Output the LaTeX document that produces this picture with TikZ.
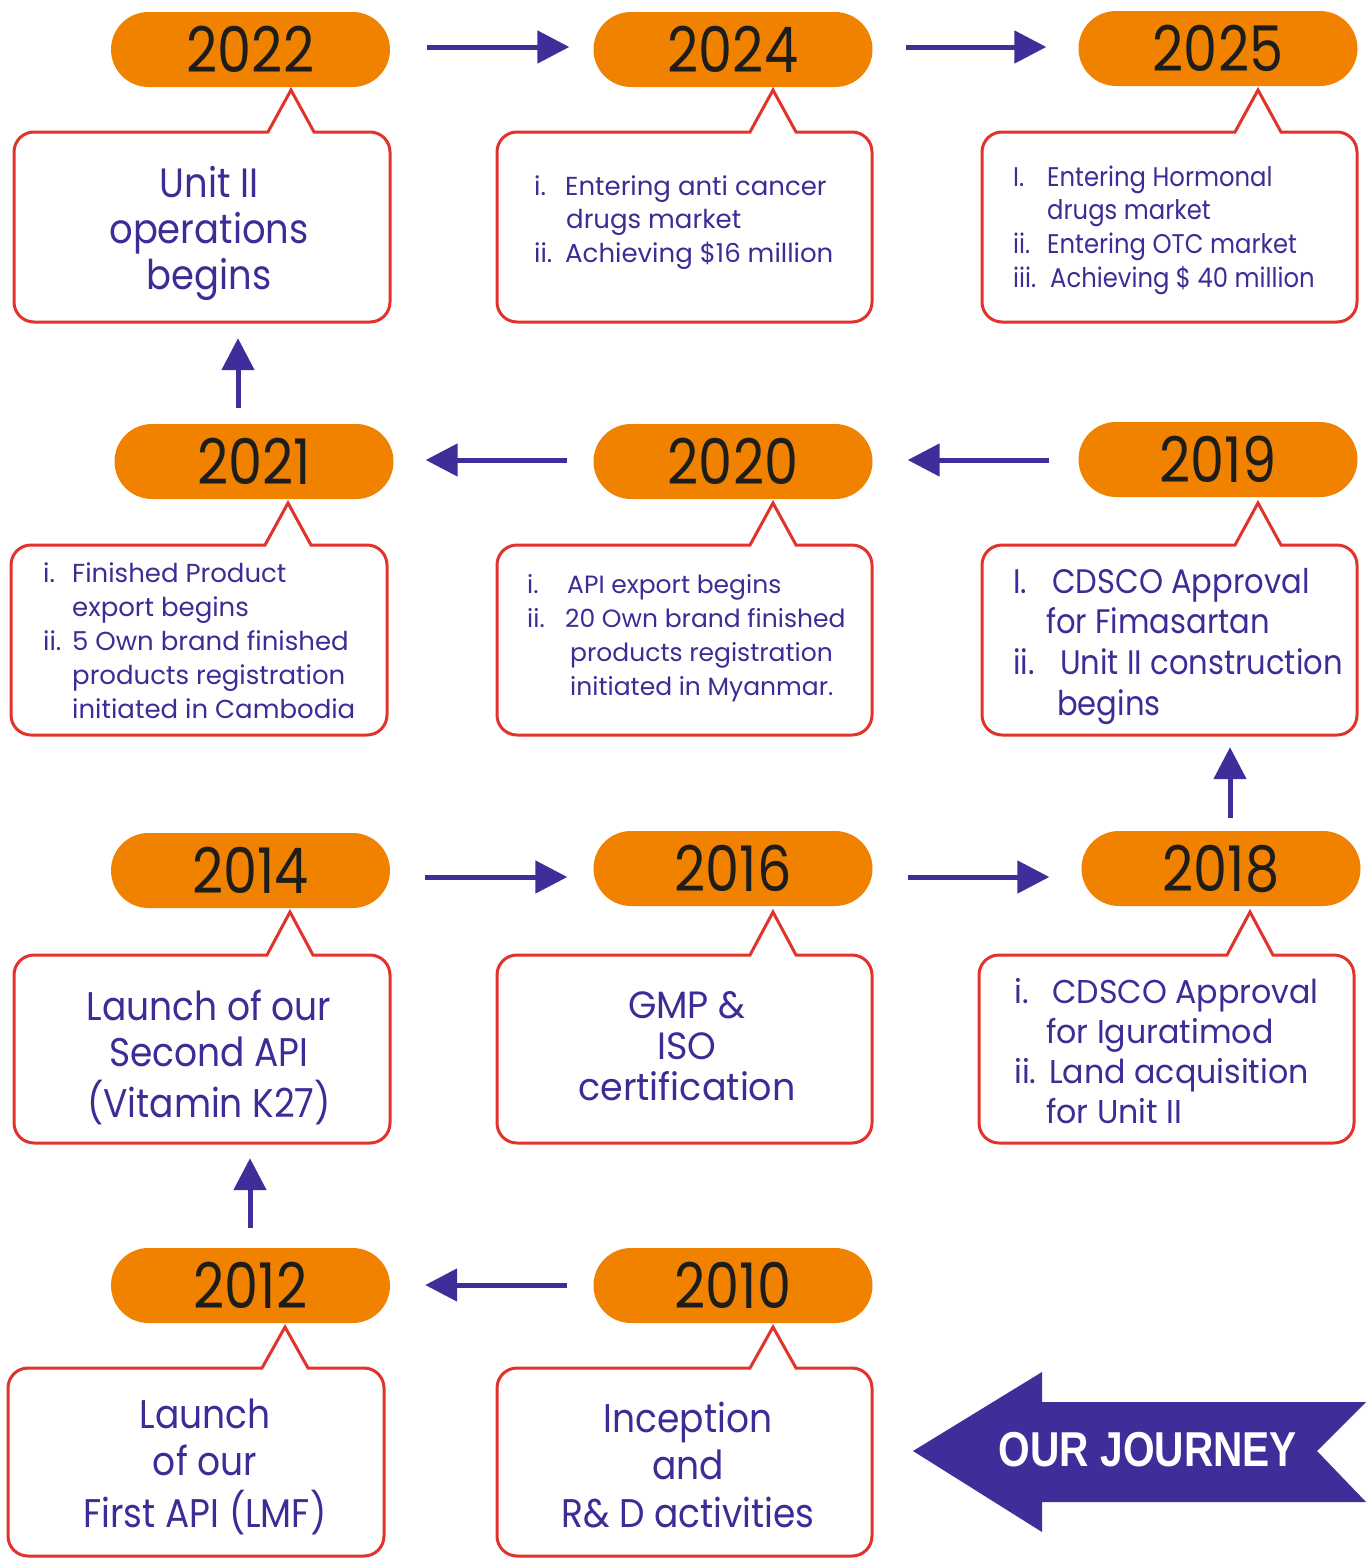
\documentclass[tikz,border=0pt]{standalone}
\usepackage{fontspec}
\setmainfont{Poppins}[FakeStretch=0.9]
\newfontfamily\fontB{Poppins}[FakeStretch=0.96]
\newfontfamily\fontC{Poppins}
\newfontfamily\yearfont{Poppins}[FakeStretch=0.86]
\newfontfamily\bannerfont{Liberation Sans}
\usetikzlibrary{arrows.meta,calc}
\definecolor{orng}{HTML}{F08200}
\definecolor{tpurple}{HTML}{3B2D96}
\definecolor{apurple}{HTML}{3D2E99}
\definecolor{bred}{HTML}{E1332B}
\definecolor{yblack}{HTML}{1D1D1B}
\newcommand{\tlbox}[7]{%
  \node[inner sep=0pt, minimum width={(#4-#2)*1pt}, minimum height={(#5-#3)*1pt}] (#1) at ({(#2+#4)/2},{-(#3+#5)/2}) {};
  \draw[boxline] ({#6+23},-#3) -- ({#4-20},-#3) arc[start angle=90,end angle=0,radius=20pt]
    -- (#4,{-#5+20}) arc[start angle=0,end angle=-90,radius=20pt]
    -- ({#2+20},-#5) arc[start angle=-90,end angle=-180,radius=20pt]
    -- (#2,{-#3-20}) arc[start angle=180,end angle=90,radius=20pt]
    -- ({#6-23},-#3) -- (#6,-#7) -- cycle;}
\tikzset{
  pill/.style={fill=orng, rounded corners=37.5pt, minimum width=279pt, minimum height=75pt,
    inner sep=0pt, text=yblack, font=\yearfont\fontsize{63}{63}\selectfont},
  boxline/.style={draw=bred, line width=3pt, line join=miter, fill=white},
  txt/.style={inner sep=0pt, text=tpurple},
  arr/.style={draw=apurple, line width=5pt, -{Triangle[length=32pt,width=32pt]}},
}
\newcommand{\lbl}[2]{\makebox[#1pt][l]{#2}}
\begin{document}
\begin{tikzpicture}[x=1pt,y=1pt]
\useasboundingbox (0,0) rectangle (1367,-1558);
\fill[white] (0,0) rectangle (1367,-1558);

% pills
\node[pill] (y2022) at (250.5,-49.5) {2022};
\node[pill] (y2024) at (733,-49.5) {2024};
\node[pill] (y2025) at (1218,-48.5) {2025};
\node[pill] (y2021) at (254,-461.5) {2021};
\node[pill] (y2020) at (733,-461.5) {2020};
\node[pill] (y2019) at (1218,-459.5) {2019};
\node[pill] (y2014) at (250.5,-870.5) {2014};
\node[pill] (y2016) at (733,-868.5) {2016};
\node[pill] (y2018) at (1221,-868.5) {2018};
\node[pill] (y2012) at (250.5,-1285.5) {2012};
\node[pill] (y2010) at (733,-1285.5) {2010};

% callout boxes
\tlbox{b2022}{14}{132}{390}{322}{291}{90}
\tlbox{b2024}{497}{132}{872}{322}{773}{90}
\tlbox{b2025}{982}{132}{1357}{322}{1258}{90}
\tlbox{b2021}{11}{545}{387}{735}{288}{503}
\tlbox{b2020}{497}{545}{872}{735}{773}{503}
\tlbox{b2019}{982}{545}{1357}{735}{1258}{503}
\tlbox{b2014}{14}{955}{390}{1143}{290}{912}
\tlbox{b2016}{497}{955}{872}{1143}{773}{912}
\tlbox{b2018}{979}{955}{1354}{1143}{1250}{912}
\tlbox{b2012}{8}{1368}{384}{1556}{285}{1327}
\tlbox{b2010}{497}{1368}{872}{1556}{773}{1327}

% texts
\node[txt, anchor=base] (t2022) at (209,-197) {\fontsize{41}{46}\selectfont
  \begin{tabular}[t]{@{}c@{}}Unit II\\operations\\begins\end{tabular}};
\node[txt, anchor=base west] (t2024) at (534,-195) {\fontC\fontsize{26}{33.5}\selectfont
  \begin{tabular}[t]{@{}l@{}}\lbl{31}{i.}Entering anti cancer\\\hspace*{32pt}drugs market\\\lbl{31}{ii.}Achieving \$16 million\end{tabular}};
\node[txt, anchor=base west] (t2025) at (1013,-186) {\fontsize{27}{33.7}\selectfont
  \begin{tabular}[t]{@{}l@{}}\lbl{34}{I.}Entering Hormonal\\\hspace*{34pt}drugs market\\\lbl{34}{ii.}Entering OTC market\\\lbl{37}{iii.}Achieving \$ 40 million\end{tabular}};
\node[txt, anchor=base west] (t2021) at (43,-582) {\fontC\fontsize{26}{34}\selectfont
  \begin{tabular}[t]{@{}l@{}}\lbl{29}{i.}Finished Product\\\hspace*{29pt}export begins\\\lbl{29}{ii.}5 Own brand finished\\\hspace*{29pt}products registration\\\hspace*{29pt}initiated in Cambodia\end{tabular}};
\node[txt, anchor=base west] (t2020) at (527,-593) {\fontC\fontsize{25}{34}\selectfont
  \begin{tabular}[t]{@{}l@{}}\lbl{40}{i.}API export begins\\\lbl{38}{ii.}20 Own brand finished\\\hspace*{43pt}products registration\\\hspace*{43pt}initiated in Myanmar.\end{tabular}};
\node[txt, anchor=base west] (t2019) at (1013,-593) {\fontsize{34}{40.7}\selectfont
  \begin{tabular}[t]{@{}l@{}}\lbl{39}{I.}CDSCO Approval\\\hspace*{33pt}for Fimasartan\\\lbl{47}{ii.}Unit II construction\\\hspace*{44pt}begins\end{tabular}};
\node[txt, anchor=base] (t2014) at (209,-1020) {\fontsize{40}{46}\selectfont
  \begin{tabular}[t]{@{}c@{}}Launch of our\\Second API\\(Vitamin K27)\end{tabular}};
\node[txt, anchor=base] (t2016) at (687,-1018) {\fontB\fontsize{38}{41}\selectfont
  \begin{tabular}[t]{@{}c@{}}GMP \&\\ISO\\certification\end{tabular}};
\node[txt, anchor=base west] (t2018) at (1014,-1003) {\fontB\fontsize{33}{40.3}\selectfont
  \begin{tabular}[t]{@{}l@{}}\lbl{38}{i.}CDSCO Approval\\\hspace*{32pt}for Iguratimod\\\lbl{35}{ii.}Land acquisition\\\hspace*{32pt}for Unit II\end{tabular}};
\node[txt, anchor=base] (t2012) at (205,-1428) {\fontsize{40}{47.5}\selectfont
  \begin{tabular}[t]{@{}c@{}}Launch\\of our\\First API (LMF)\end{tabular}};
\node[txt, anchor=base] (t2010) at (688,-1432) {\fontsize{40}{47.5}\selectfont
  \begin{tabular}[t]{@{}c@{}}Inception\\and\\R\& D activities\end{tabular}};

% connectors
\draw[arr] ([shift={(37,2.5)}]y2022.east) -- ([shift={(-24,2.5)}]y2024.west);
\draw[arr] ([shift={(33,2.5)}]y2024.east) -- ([shift={(-32,1.5)}]y2025.west);
\draw[arr] ([shift={(-26,1.5)}]y2020.west) -- ([shift={(32,1.5)}]y2021.east);
\draw[arr] ([shift={(-29,-0.5)}]y2019.west) -- ([shift={(35,1.5)}]y2020.east);
\draw[arr] ([shift={(35,-6.5)}]y2014.east) -- ([shift={(-26,-8.5)}]y2016.west);
\draw[arr] ([shift={(35,-8.5)}]y2016.east) -- ([shift={(-32,-8.5)}]y2018.west);
\draw[arr] ([shift={(-26,0.5)}]y2010.west) -- ([shift={(35,0.5)}]y2012.east);
\draw[arr] ($(y2021.north)+(-16,16)$) -- ($(y2021.north |- b2022.south)+(-16,-16)$);
\draw[arr] ($(y2018.north)+(9,13)$) -- ($(y2018.north |- b2019.south)+(9,-12)$);
\draw[arr] ($(y2012.north)+(-0.5,20)$) -- ($(y2012.north |- b2014.south)+(-0.5,-15)$);

% banner arrow
\fill[apurple] (913,-1451) -- (1042,-1372) -- (1042,-1402) -- (1366,-1402) -- (1317,-1451)
  -- (1366,-1502) -- (1042,-1502) -- (1042,-1532) -- cycle;
\node[inner sep=0pt, text=white, font=\bannerfont\bfseries\fontsize{49}{49}\selectfont] (journey) at (1148,-1450) {\scalebox{0.83}[1]{OUR JOURNEY}};
\end{tikzpicture}
\end{document}
